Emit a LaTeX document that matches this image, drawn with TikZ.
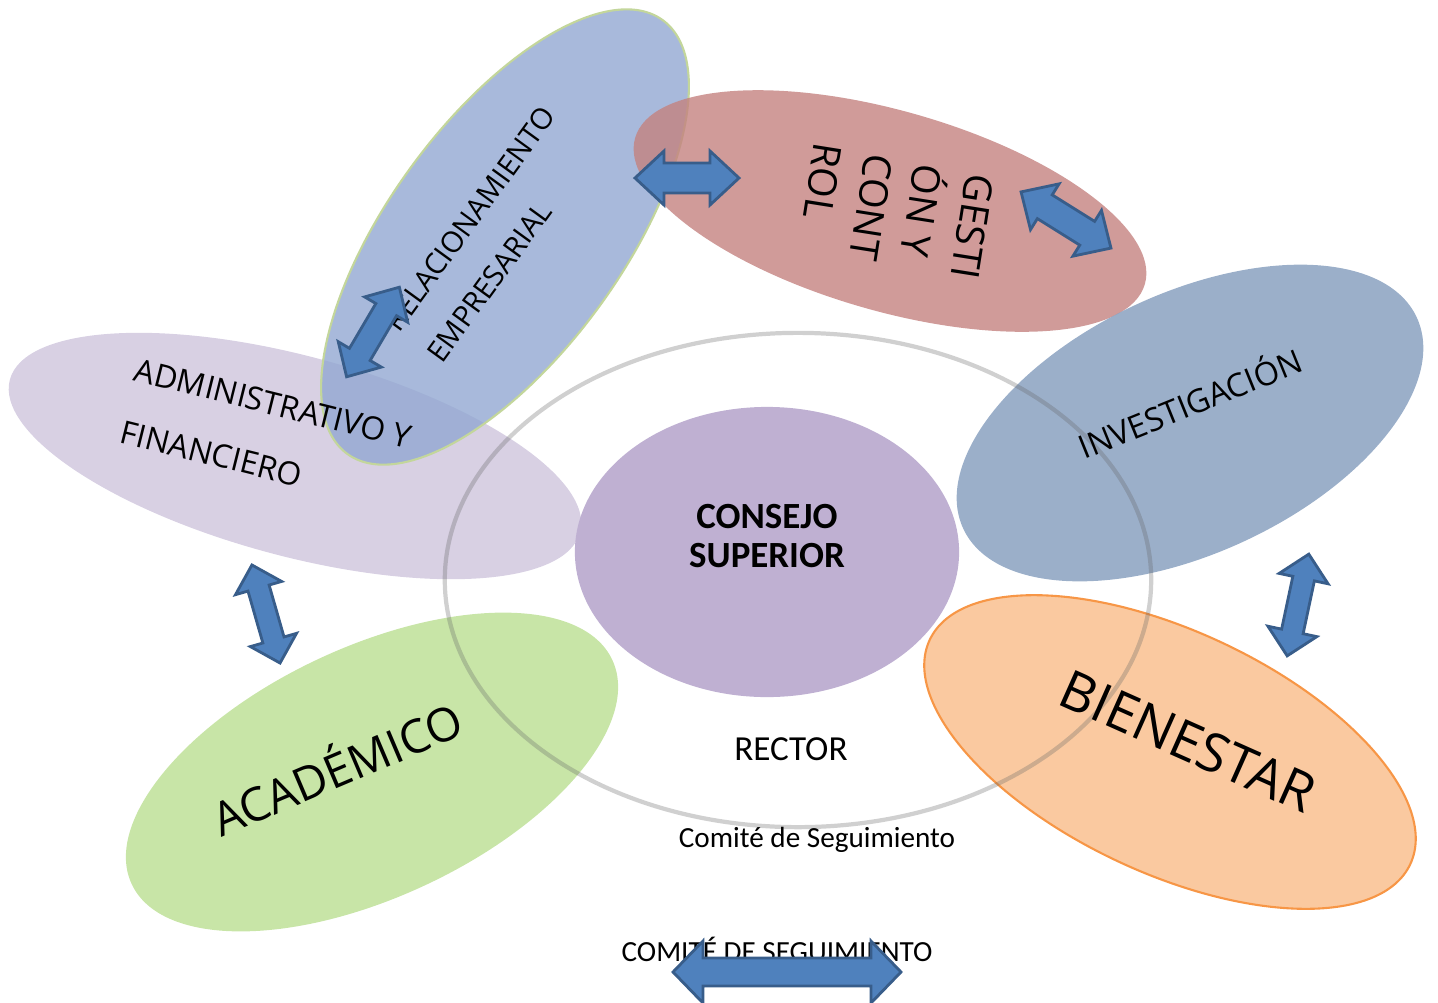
\documentclass[tikz,border=0pt]{standalone}
\usepackage{fontspec}
\setmainfont{Open Sans}
\newfontfamily\calib{Carlito}
\usetikzlibrary{shapes.geometric}
\definecolor{admc}{RGB}{206,196,220}
\definecolor{relc}{RGB}{146,168,210}
\definecolor{relo}{RGB}{195,214,155}
\definecolor{gesc}{RGB}{196,130,128}
\definecolor{invc}{RGB}{130,155,188}
\definecolor{bienc}{RGB}{249,188,136}
\definecolor{bieno}{RGB}{247,150,70}
\definecolor{acadc}{RGB}{186,222,145}
\definecolor{conc}{RGB}{191,176,210}
\definecolor{ringc}{RGB}{100,100,100}
\definecolor{arrf}{RGB}{79,129,189}
\definecolor{arro}{RGB}{56,93,138}
\tikzset{
  blob/.style={ellipse, inner sep=0pt, outer sep=0pt, fill opacity=0.8},
  lab/.style={inner sep=0pt, anchor=base west, text=black},
  ctr/.style={inner sep=0pt, anchor=base, text=black},
  arr/.style={fill=arrf, draw=arro, line width=0.8pt, line join=miter},
  pics/dbl/.style n args={4}{code={
    \draw[arr] (-#1,0) -- (-#1+#4,#2) -- (-#1+#4,#3) -- (#1-#4,#3) -- (#1-#4,#2) -- (#1,0)
      -- (#1-#4,-#2) -- (#1-#4,-#3) -- (-#1+#4,-#3) -- (-#1+#4,-#2) -- cycle;
  }}
}
\begin{document}
\begin{tikzpicture}[x=0.01cm,y=-0.01cm]
\useasboundingbox (0,0) rectangle (1438,1002);
% ellipses
\node[blob, fill=admc, minimum width=5.9cm, minimum height=2.0cm, rotate=-15] (adm) at (295,456) {};
\node[blob, fill=acadc, minimum width=5.3cm, minimum height=2.5cm, rotate=25] (acad) at (372,772) {};
\node[blob, fill=relc, draw=relo, line width=0.6pt, minimum width=5.36cm, minimum height=2.34cm, rotate=54] (rel) at (505,237) {};
\node[blob, fill=gesc, minimum width=5.3cm, minimum height=2.0cm, rotate=-16] (ges) at (890,211) {};
\node[blob, fill=invc, minimum width=5.0cm, minimum height=2.6cm, rotate=25] (inv) at (1190,423) {};
\node[blob, fill=bienc, draw=bieno, line width=0.6pt, minimum width=5.3cm, minimum height=2.42cm, rotate=-25] (bien) at (1170,752) {};
% ring
\node[ellipse, draw=ringc, draw opacity=0.3, line width=1.2pt, inner sep=0pt, minimum width=7.06cm, minimum height=4.94cm] (ring) at (798,580) {};
% centre
\node[ellipse, fill=conc, inner sep=0pt, minimum width=3.84cm, minimum height=2.9cm] (con) at (767,552) {};
% texts
\node[ctr, font=\calib\bfseries\fontsize{10.5}{12}\selectfont] (con1) at (767,528) {CONSEJO};
\node[ctr, font=\calib\bfseries\fontsize{10.5}{12}\selectfont] (con2) at (767,567) {SUPERIOR};
\node[ctr, font=\calib\fontsize{10}{12}\selectfont] (rector) at (791,760) {RECTOR};
\node[ctr, font=\calib\fontsize{8.3}{10}\selectfont] (comite) at (817,847) {Comité de Seguimiento};
\node[ctr, font=\calib\fontsize{8.3}{10}\selectfont] (comite2) at (777,961) {COMITÉ DE SEGUIMIENTO};
\node[lab, font=\fontsize{9.1}{10}\selectfont, rotate=-14] (adm1) at (132,380) {ADMINISTRATIVO Y};
\node[lab, font=\fontsize{9.1}{10}\selectfont, rotate=-14] (adm2) at (118,442) {FINANCIERO};
\node[lab, font=\fontsize{8.3}{10}\selectfont, rotate=54] (rel1) at (399,334) {RELACIONAMIENTO};
\node[lab, font=\fontsize{8.3}{10}\selectfont, rotate=54] (rel2) at (442,365) {EMPRESARIAL};
\node[lab, font=\fontsize{11.2}{13}\selectfont, rotate=-99] (ges1) at (967,172) {GESTI};
\node[lab, font=\fontsize{11.2}{13}\selectfont, rotate=-99] (ges2) at (915,162) {ÓN Y};
\node[lab, font=\fontsize{11.2}{13}\selectfont, rotate=-99] (ges3) at (866,152) {CONT};
\node[lab, font=\fontsize{11.2}{13}\selectfont, rotate=-99] (ges4) at (815,141) {ROL};
\node[lab, font=\fontsize{9.2}{10}\selectfont, rotate=22] (invt) at (1084,460) {INVESTIGACIÓN};
\node[lab, font=\fontsize{15.3}{17}\selectfont, rotate=-24] (bient) at (1055,703) {BIENESTAR};
\node[lab, font=\fontsize{13.2}{15}\selectfont, rotate=23] (acadt) at (221,838) {ACADÉMICO};
% arrows
\pic (a1) at (687,178) {dbl={52}{27}{15}{29}};
\pic[rotate=-32] (a2) at (1066,220) {dbl={53}{27}{14}{28}};
\pic[rotate=59.5] (a3) at (373,332) {dbl={52}{25}{12}{26}};
\pic[rotate=-74] (a4) at (266,614) {dbl={51}{24}{11}{24}};
\pic[rotate=-102] (a5) at (1298,605) {dbl={52}{25}{11}{25}};
\pic (a6) at (787,972) {dbl={114}{31}{14}{30}};
\end{tikzpicture}
\end{document}
